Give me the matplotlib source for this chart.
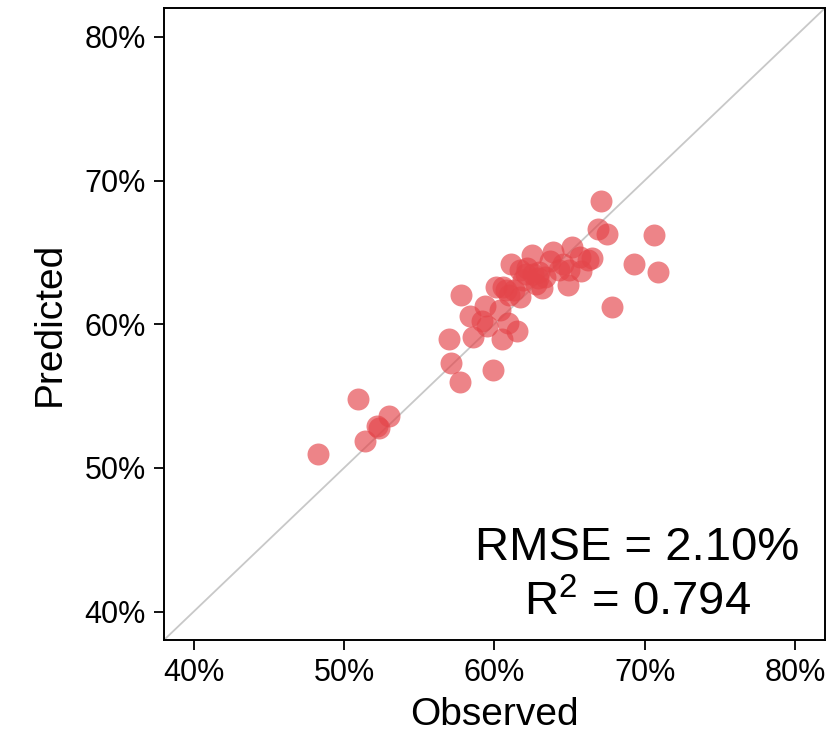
import matplotlib
matplotlib.use("Agg")
import matplotlib.pyplot as plt
from matplotlib.ticker import FuncFormatter

plt.rcParams['font.family'] = ['Liberation Sans', 'DejaVu Sans']
plt.rcParams['mathtext.fontset'] = 'custom'
plt.rcParams['mathtext.rm'] = 'Liberation Sans'

# observed vs predicted (in %)
observed = [48.3, 50.9, 53.0, 52.3, 52.2, 51.4, 57.0, 57.1, 57.7, 59.9,
            57.8, 58.4, 58.6, 59.4, 59.2, 59.5, 60.5, 61.5, 60.9, 60.4,
            60.6, 61.0, 61.7, 61.1, 61.7, 62.5, 62.1, 62.8, 63.2, 63.9,
            63.7, 64.3, 63.4, 64.9, 65.2, 65.7, 65.0, 65.8, 66.5, 66.9,
            67.5, 67.1, 70.6, 69.3, 70.9, 67.8, 60.1, 61.9, 62.9, 62.2,
            63.0, 64.6, 66.2, 61.3, 62.6, 60.8]
predicted = [51.0, 54.8, 53.6, 52.8, 52.9, 51.9, 59.0, 57.3, 56.0, 56.8,
             62.0, 60.6, 59.1, 61.3, 60.2, 59.9, 59.0, 59.5, 60.1, 61.0,
             62.6, 62.0, 61.9, 64.2, 63.8, 64.8, 63.5, 62.8, 62.5, 65.0,
             64.4, 63.8, 63.3, 62.7, 65.4, 64.7, 63.8, 63.7, 64.6, 66.6,
             66.3, 68.6, 66.2, 64.2, 63.6, 61.2, 62.6, 63.1, 63.2, 63.9,
             63.6, 64.2, 64.5, 62.4, 63.5, 62.4]
rmse_text = "RMSE = 2.10%\nR$^{\\mathrm{2}}$ = 0.794"
lims = (38, 82)
ticks = [40, 50, 60, 70, 80]

fig = plt.figure(figsize=(8.35, 7.36), dpi=100)
ax = fig.add_axes([0.196, 0.130, 0.792, 0.859])

ax.plot(lims, lims, color='#c8c8c8', lw=1.3, zorder=1)
ax.scatter(observed, predicted, s=250, color='#e4454a', alpha=0.66,
           linewidths=0, zorder=2)

ax.set_xlim(lims)
ax.set_ylim(lims)
ax.set_xticks(ticks)
ax.set_yticks(ticks)
pct = FuncFormatter(lambda v, p: '%d%%' % v)
ax.xaxis.set_major_formatter(pct)
ax.yaxis.set_major_formatter(pct)
ax.tick_params(direction='out', length=7, width=1.3, labelsize=22, pad=6)
for sp in ax.spines.values():
    sp.set_linewidth(1.4)

ax.set_xlabel('Observed', fontsize=28, labelpad=6)
ax.set_ylabel('Predicted', fontsize=28, labelpad=12)

ax.text(69.5, 42.5, rmse_text, fontsize=34, ha='center', va='center',
        multialignment='center', linespacing=1.3)

fig.savefig('out.png', dpi=100)
